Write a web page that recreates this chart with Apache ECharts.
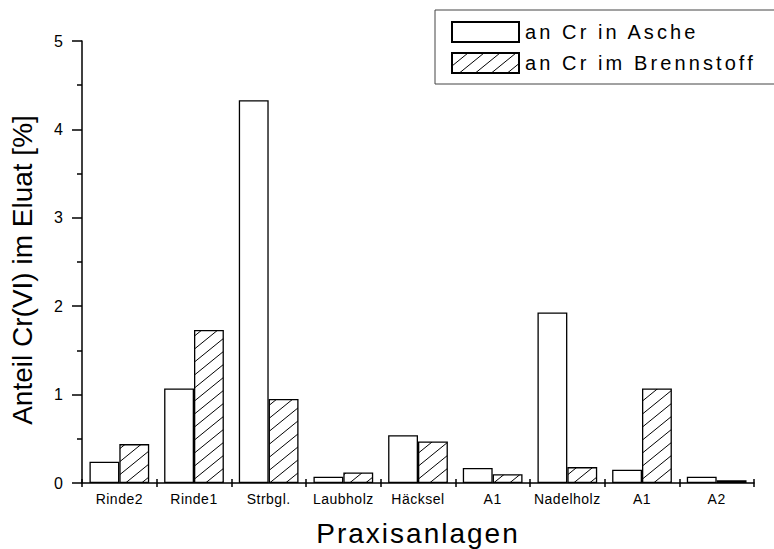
<!DOCTYPE html>
<html>
<head>
<meta charset="utf-8">
<title>Anteil Cr(VI) im Eluat</title>
<script src="https://cdn.jsdelivr.net/npm/echarts@6/dist/echarts.min.js"></script>
<style>
  html, body { margin: 0; padding: 0; background: #fff; }
  #chart { width: 774px; height: 549px; }
</style>
</head>
<body>
<div id="chart"></div>
<script>
// Plants (categories along the x axis)
const categories = ['Rinde2', 'Rinde1', 'Strbgl.', 'Laubholz', 'Häcksel', 'A1', 'Nadelholz', 'A1', 'A2'];
// Share of Cr(VI) in the eluate, in percent
const ashShare  = [0.24, 1.07, 4.33, 0.07, 0.54, 0.17, 1.93, 0.15, 0.07];
const fuelShare = [0.44, 1.73, 0.95, 0.12, 0.47, 0.10, 0.18, 1.07, 0.03];
const seriesNames = ['an Cr in Asche', 'an Cr im Brennstoff'];
const yMin = 0, yMax = 5, yStep = 1;

const FONT = "'Liberation Sans', Arial, Helvetica, sans-serif";

// Diagonal hatch tile ("/" lines) used as fill of the second series
function hatchPattern() {
  const w = 16, h = 13;
  const c = document.createElement('canvas');
  c.width = w; c.height = h;
  const g = c.getContext('2d');
  g.fillStyle = '#fff';
  g.fillRect(0, 0, w, h);
  g.strokeStyle = '#000';
  g.lineWidth = 1;
  g.beginPath();
  for (const dx of [-w, 0, w]) {
    for (const dy of [-h, 0, h]) {
      g.moveTo(dx, h + dy);
      g.lineTo(w + dx, dy);
    }
  }
  g.stroke();
  return { image: c, repeat: 'repeat' };
}

const chart = echarts.init(document.getElementById('chart'), null, { renderer: 'svg' });

const axisColor = '#000';
const option = {
  animation: false,
  backgroundColor: '#fff',
  textStyle: { fontFamily: FONT, color: '#000' },
  grid: { left: 82, right: 20, top: 41, bottom: 66, outerBoundsMode: 'none' },
  legend: {
    data: seriesNames,
    orient: 'vertical',
    left: 435,
    top: 10,
    icon: 'rect',
    itemWidth: 67,
    itemHeight: 20,
    itemGap: 9,
    padding: [11, 140, 10, 16],
    borderColor: '#444',
    borderWidth: 1,
    textStyle: { fontSize: 20, color: '#000', fontFamily: FONT, padding: [0, 0, 0, 1] },
    selectedMode: false
  },
  xAxis: [
    {
      type: 'category',
      data: categories,
      position: 'bottom',
      axisLine: { show: true, lineStyle: { color: axisColor, width: 1.5 } },
      axisTick: { show: true, length: 4, lineStyle: { color: axisColor, width: 1.5 } },
      axisLabel: { fontSize: 14, margin: 9, color: '#000', interval: 0, fontFamily: FONT },
      splitLine: { show: false },
      name: 'Praxisanlagen',
      nameLocation: 'middle',
      nameGap: 36,
      nameTextStyle: { fontSize: 28, color: '#000', fontFamily: FONT }
    },
    {
      // second axis only carries the upward half of the boundary ticks
      type: 'category',
      data: categories,
      position: 'bottom',
      axisLine: { show: false },
      axisTick: { show: true, inside: true, length: 4, lineStyle: { color: axisColor, width: 1.5 } },
      axisLabel: { show: false },
      splitLine: { show: false }
    }
  ],
  yAxis: {
    type: 'value',
    min: yMin,
    max: yMax,
    interval: yStep,
    axisLine: { show: true, lineStyle: { color: axisColor, width: 1.5 } },
    axisTick: { show: true, length: 10, lineStyle: { color: axisColor, width: 1.5 } },
    minorTick: { show: true, splitNumber: 2, length: 5, lineStyle: { color: axisColor, width: 1.5 } },
    splitLine: { show: false },
    axisLabel: { fontSize: 16, margin: 19, color: '#000', fontFamily: FONT },
    name: 'Anteil Cr(VI) im Eluat [%]',
    nameLocation: 'middle',
    nameGap: 46,
    nameTextStyle: { fontSize: 28, color: '#000', fontFamily: FONT, padding: [0, 16, 0, 0] }
  },
  series: [
    {
      name: seriesNames[0],
      type: 'bar',
      xAxisIndex: 0,
      data: ashShare,
      barWidth: '40%',
      barGap: '0%',
      itemStyle: { color: '#fff', borderColor: '#000', borderWidth: 1.3 }
    },
    {
      name: seriesNames[1],
      type: 'bar',
      xAxisIndex: 0,
      data: fuelShare,
      barWidth: '40%',
      barGap: '0%',
      itemStyle: { color: hatchPattern(), borderColor: '#000', borderWidth: 1.3 }
    }
  ]
};

chart.setOption(option);

// Wider tracking for the legend, axis title and category labels
function applyTracking() {
  const tracking = {};
  seriesNames.forEach(n => { tracking[n] = 3.1; });
  tracking['Praxisanlagen'] = 2.0;
  categories.forEach(n => { tracking[n] = 0.5; });
  document.querySelectorAll('#chart svg text').forEach(t => {
    const s = tracking[t.textContent];
    if (s !== undefined) t.setAttribute('letter-spacing', s + 'px');
  });
}
chart.on('finished', applyTracking);
applyTracking();
setTimeout(applyTracking, 0);
</script>
</body>
</html>
